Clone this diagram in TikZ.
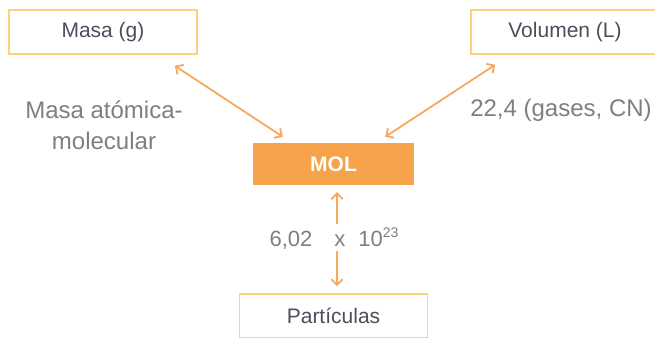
\documentclass[tikz,border=0pt]{standalone}
\usepackage{fontspec}
\setmainfont{Liberation Sans}
\usetikzlibrary{arrows.meta,calc}
\definecolor{boxline}{HTML}{FCD27E}
\definecolor{arrcol}{HTML}{F6A95C}
\definecolor{molfill}{HTML}{F6A34C}
\definecolor{boxtext}{HTML}{4E4E5C}
\definecolor{graytext}{HTML}{7E7E84}
\tikzset{
  lbox/.style={draw=boxline, line width=1.6pt, fill=white, minimum width=188pt, minimum height=44pt, inner sep=0pt, text=boxtext, font=\fontsize{21}{25}\selectfont},
  molbox/.style={fill=molfill, minimum width=161pt, minimum height=42pt, inner sep=0pt, text=white, font=\fontsize{21}{25}\selectfont\bfseries},
  glabel/.style={text=graytext, inner sep=0pt, font=\fontsize{24}{31}\selectfont},
  arr/.style={draw=arrcol, line width=1.8pt, arrows={Straight Barb[angle=90:8pt]-Straight Barb[angle=90:8pt]}},
  arrone/.style={draw=arrcol, line width=1.8pt, arrows={-Straight Barb[angle=90:8pt]}}
}
\begin{document}
\begin{tikzpicture}[x=1pt,y=-1pt]
\useasboundingbox (0,0) rectangle (655,337);
\clip (0,0) rectangle (655,337);
\node[lbox] (masa) at (103,32) {Masa (g)};
\node[lbox] (vol) at (565,32) {Volumen (L)};
\node[molbox] (mol) at (333.5,164) {MOL};
\node[lbox] (part) at (333.5,316) {Partículas};
\node[glabel, align=center, anchor=base] (mam) at (104,149) {Masa atómica-\\molecular};
\node[glabel, anchor=base] (gas) at (561,116) {22,4 (gases, CN)};
\node[text=graytext, inner sep=0pt, anchor=base, font=\fontsize{22}{26}\selectfont] (num) at (334,246) {6,02\hspace{22pt}x\hspace{13pt}10\raisebox{9pt}{\fontsize{14}{14}\selectfont 23}};
\coordinate (vx) at (337,0);
\draw[arr] ($(masa.south east)+(-23,11)$) -- ($(mol.north west)+(30,-6)$);
\draw[arr] ($(vol.south west)+(25,10)$) -- ($(mol.north east)+(-29,-6)$);
\draw[arrone] ($(num.center -| vx)+(0,-14)$) -- ($(mol.south -| vx)+(0,7)$);
\draw[arrone] ($(num.center -| vx)+(0,13)$) -- ($(part.north -| vx)+(0,-7)$);
\end{tikzpicture}
\end{document}
